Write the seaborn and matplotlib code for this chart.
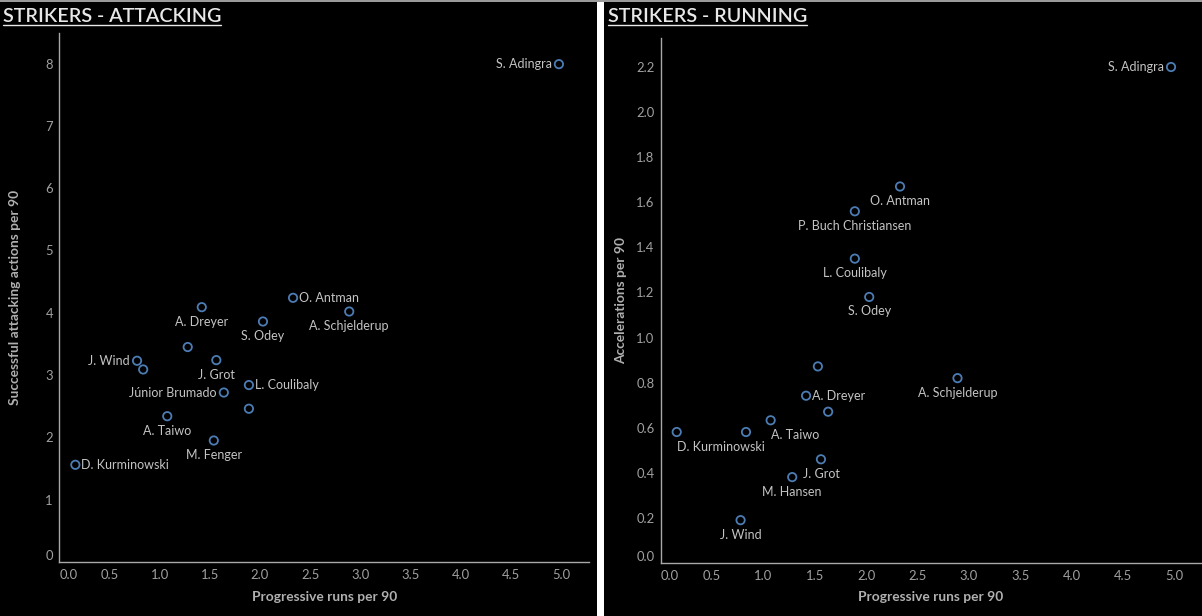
import matplotlib
matplotlib.use("Agg")
import matplotlib.pyplot as plt
from matplotlib.patches import Rectangle
from matplotlib.lines import Line2D
import seaborn as sns
import pandas as pd

# ---------------- data ----------------
att_players = ["S. Adingra", "O. Antman", "A. Schjelderup", "S. Odey", "A. Dreyer",
               "M. Hansen", "J. Wind", "Player 15", "J. Grot", "L. Coulibaly",
               "Júnior Brumado", "P. Buch Christiansen", "A. Taiwo", "M. Fenger",
               "D. Kurminowski"]
att_prog_runs = [4.98, 2.33, 2.89, 2.03, 1.42, 1.28, 0.775, 0.836, 1.565, 1.89,
                 1.64, 1.89, 1.076, 1.54, 0.16]
att_actions = [7.99, 4.24, 4.02, 3.86, 4.09, 3.45, 3.23, 3.09, 3.24, 2.84,
               2.72, 2.46, 2.34, 1.95, 1.56]
att_labelled = ["S. Adingra", "O. Antman", "A. Schjelderup", "S. Odey", "A. Dreyer",
                "J. Wind", "J. Grot", "L. Coulibaly", "Júnior Brumado", "A. Taiwo",
                "M. Fenger", "D. Kurminowski"]

run_players = ["S. Adingra", "O. Antman", "P. Buch Christiansen", "L. Coulibaly", "S. Odey",
               "M. Fenger", "A. Schjelderup", "A. Dreyer", "Júnior Brumado", "A. Taiwo",
               "D. Kurminowski", "Player 15", "J. Grot", "M. Hansen", "J. Wind"]
run_prog_runs = [4.97, 2.33, 1.89, 1.89, 2.03, 1.53, 2.89, 1.415, 1.63, 1.07,
                 0.155, 0.83, 1.56, 1.28, 0.777]
run_accels = [2.20, 1.67, 1.56, 1.35, 1.18, 0.872, 0.82, 0.742, 0.671, 0.633,
              0.581, 0.581, 0.46, 0.381, 0.19]
run_labelled = ["S. Adingra", "O. Antman", "P. Buch Christiansen", "L. Coulibaly", "S. Odey",
                "A. Schjelderup", "A. Dreyer", "A. Taiwo", "D. Kurminowski", "J. Grot",
                "M. Hansen", "J. Wind"]

att_xticks = [0.0, 0.5, 1.0, 1.5, 2.0, 2.5, 3.0, 3.5, 4.0, 4.5, 5.0]
att_yticks = [0, 1, 2, 3, 4, 5, 6, 7, 8]
run_xticks = [0.0, 0.5, 1.0, 1.5, 2.0, 2.5, 3.0, 3.5, 4.0, 4.5, 5.0]
run_yticks = [0.0, 0.2, 0.4, 0.6, 0.8, 1.0, 1.2, 1.4, 1.6, 1.8, 2.0, 2.2]

# ---------------- label placement (pixels: dx, dy, ha, va) ----------------
RIGHT = (6, 0, "left", "center")
LEFT = (-7, 0, "right", "center")
BELOW = (0, -14.5, "center", "center")
BELOW_L = (0, -15, "left", "center")
att_place = {"S. Adingra": LEFT, "O. Antman": RIGHT, "A. Schjelderup": BELOW,
             "S. Odey": BELOW, "A. Dreyer": BELOW, "J. Wind": LEFT, "J. Grot": BELOW,
             "L. Coulibaly": RIGHT, "Júnior Brumado": LEFT, "A. Taiwo": BELOW,
             "M. Fenger": BELOW, "D. Kurminowski": RIGHT}
run_place = {"S. Adingra": LEFT, "O. Antman": BELOW, "P. Buch Christiansen": BELOW,
             "L. Coulibaly": BELOW, "S. Odey": BELOW, "A. Schjelderup": BELOW,
             "A. Dreyer": RIGHT, "A. Taiwo": BELOW_L, "D. Kurminowski": BELOW_L,
             "J. Grot": BELOW, "M. Hansen": BELOW, "J. Wind": BELOW}

sns.set_theme(style="white")
FONT = ["Lato", "DejaVu Sans"]
plt.rcParams["font.family"] = FONT

W, H = 1202, 616
fig = plt.figure(figsize=(W / 100, H / 100), dpi=100, facecolor="white")

# panel backgrounds
fig.patches.append(Rectangle((0, 0), 597 / W, 1 - 1.5 / H, transform=fig.transFigure,
                             facecolor="black", edgecolor="none", zorder=-10))
fig.patches.append(Rectangle((604 / W, 0), (W - 604) / W, 1 - 1.5 / H, transform=fig.transFigure,
                             facecolor="black", edgecolor="none", zorder=-10))
fig.patches.append(Rectangle((0, 1 - 1.5 / H), 1, 1.5 / H, transform=fig.transFigure,
                             facecolor="#9a9a9a", edgecolor="none", zorder=-10))

AXIS_C = "#a8a8a8"
TICK_C = "#a0a0a0"
LAB_C = "#b0b0b0"
PT_C = "#c4c4c4"
MARK_C = "#4c7cb4"


def px(v):
    return v * 72 / 100.0


def make_panel(rect, xs, ys, names, labelled, place, xticks, yticks, xlim, ylim,
               xlabel, ylabel, yfmt, ylab_x, xlab_y):
    ax = fig.add_axes(rect)
    ax.set_facecolor("none")
    df = pd.DataFrame({"x": xs, "y": ys, "name": names})
    sns.scatterplot(data=df, x="x", y="y", ax=ax, s=36, marker="o",
                    facecolors="none", edgecolor=MARK_C, linewidth=1.3, zorder=3,
                    clip_on=False)
    for n, xv, yv in zip(names, xs, ys):
        if n in labelled:
            dx, dy, ha, va = place[n]
            ax.annotate(n, (xv, yv), xytext=(px(dx), px(dy)), textcoords="offset points",
                        ha=ha, va=va, fontsize=9.0, color=PT_C)
    ax.set_xlim(*xlim)
    ax.set_ylim(*ylim)
    ax.set_xticks(xticks)
    ax.set_xticklabels([f"{t:.1f}" for t in xticks])
    ax.set_yticks(yticks)
    ax.set_yticklabels([yfmt.format(t) for t in yticks])
    for s in ["top", "right"]:
        ax.spines[s].set_visible(False)
    for s in ["left", "bottom"]:
        ax.spines[s].set_color(AXIS_C)
        ax.spines[s].set_linewidth(1.0)
    ax.tick_params(axis="both", colors=AXIS_C, labelcolor=TICK_C, labelsize=9.4,
                   length=3, width=0.8, direction="out")
    ax.tick_params(axis="x", pad=2.2)
    ax.tick_params(axis="y", pad=1.5)
    ax.get_xticklabels()[0].set_horizontalalignment("left")
    ax.get_yticklabels()[0].set_verticalalignment("bottom")
    ax.set_xlabel(xlabel, color=LAB_C, fontsize=9.9, fontweight="bold")
    ax.set_ylabel(ylabel, color=LAB_C, fontsize=9.9, fontweight="bold")
    ax.yaxis.set_label_coords(ylab_x, 0.5)
    ax.xaxis.set_label_coords(0.5, xlab_y)
    ax.grid(False)
    return ax


ax1 = make_panel([59.3 / W, 1 - 562 / H, 529.7 / W, 529 / H],
                 att_prog_runs, att_actions, att_players, att_labelled, att_place,
                 att_xticks, att_yticks, (0, 5.28), (0, 8.49),
                 "Progressive runs per 90", "Successful attacking actions per 90", "{:.0f}",
                 (21 - 59.3) / 529.7, (562 - 591) / 529.0)
ax2 = make_panel([660.8 / W, 1 - 563 / H, 540 / W, 525.3 / H],
                 run_prog_runs, run_accels, run_players, run_labelled, run_place,
                 run_xticks, run_yticks, (0, 5.26), (0, 2.33),
                 "Progressive runs per 90", "Accelerations per 90", "{:.1f}",
                 (627 - 660.8) / 540.0, (563 - 591) / 525.3)

# titles with underline
titles = [("STRIKERS - ATTACKING", 3), ("STRIKERS - RUNNING", 608)]
renderer = fig.canvas.get_renderer()
for txt, x0 in titles:
    t = fig.text(x0 / W, 1 - 22 / H, txt, fontsize=14.2, fontweight="semibold",
                 color="#e8e8e8", ha="left", va="baseline")
    bb = t.get_window_extent(renderer=renderer)
    y_ul = 1 - 25 / H
    fig.lines.append(Line2D([bb.x0 / W, bb.x1 / W], [y_ul, y_ul], transform=fig.transFigure,
                            color="#e8e8e8", linewidth=1.0))

fig.savefig("out.png", dpi=100, facecolor=fig.get_facecolor())
